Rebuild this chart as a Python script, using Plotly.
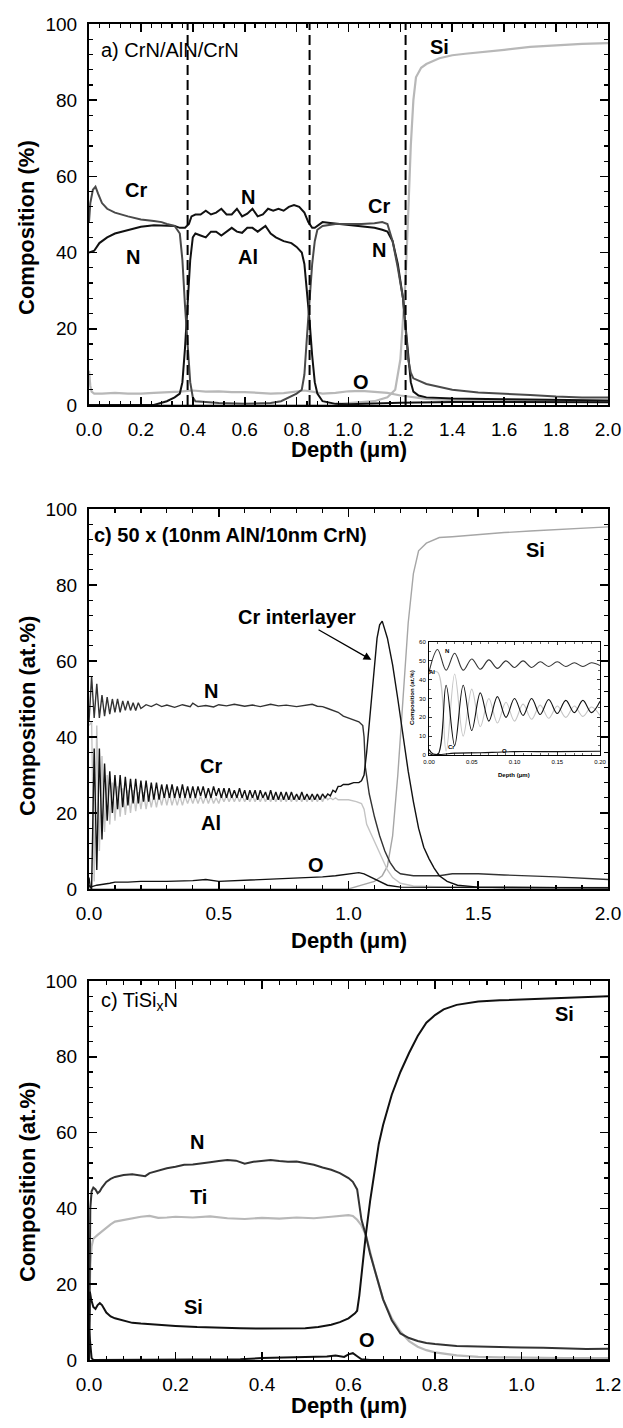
import plotly.graph_objects as go

# ================= DATA =================
# ---- Panel a) CrN/AlN/CrN ----
a_cr_depth = [0.0, 0.005, 0.015, 0.025, 0.035, 0.05, 0.07, 0.10, 0.15, 0.20, 0.25, 0.28, 0.30, 0.33, 0.35, 0.36, 0.37, 0.38,
              0.39, 0.40, 0.41, 0.45, 0.50, 0.60, 0.70, 0.74, 0.77, 0.80, 0.82, 0.83, 0.84, 0.85, 0.86, 0.87, 0.88, 0.90,
              0.95, 1.00, 1.05, 1.10, 1.13, 1.15, 1.17, 1.19, 1.21, 1.22, 1.23, 1.24, 1.25, 1.30, 1.40, 1.50, 1.60,
              1.70, 1.80, 1.90, 2.00]
a_cr = [48, 53, 56.5, 57.3, 55.5, 53, 51.5, 50.5, 49.5, 48.7, 48.3, 48, 47.5, 47, 45, 38, 26, 15,
        6, 2, 1, 0.8, 0.5, 0.3, 0.5, 1, 2, 3, 4, 8, 18, 28, 37, 43, 46, 47,
        47.5, 47.5, 47.5, 47.7, 48, 47.5, 43, 36, 28, 20, 12, 8.5, 7, 5.5, 4, 3.3, 3,
        2.6, 2.2, 2, 2]
a_n_depth = [0.0, 0.02, 0.04, 0.07, 0.10, 0.15, 0.20, 0.25, 0.30, 0.33, 0.35, 0.37, 0.385, 0.395, 0.41, 0.43, 0.45, 0.47,
             0.49, 0.51, 0.53, 0.55, 0.57, 0.59, 0.61, 0.63, 0.65, 0.67, 0.69, 0.71, 0.73, 0.75, 0.77, 0.79, 0.81,
             0.83, 0.845, 0.86, 0.87, 0.89, 0.90, 0.93, 1.00, 1.05, 1.10, 1.13, 1.15, 1.17, 1.19, 1.21, 1.22, 1.23,
             1.24, 1.25, 1.27, 1.30, 1.40, 1.60, 1.80, 2.00]
a_n = [40, 40.5, 42.5, 44, 45, 46, 46.8, 47.2, 47, 47, 46.5, 46.5, 47.5, 49.5, 50, 50, 51, 50,
       50.5, 51.5, 50, 50, 51.5, 49.5, 50.2, 51.5, 49.5, 50, 51.5, 51, 51.5, 51, 52, 52.5, 52,
       50.5, 48, 46.5, 46.5, 47.5, 48, 47.8, 47.3, 47, 46.5, 46, 45.5, 43, 37, 28, 20, 12,
       6, 3.5, 2.5, 2, 1.7, 1.5, 1.3, 1.2]
a_al_depth = [0.0, 0.25, 0.30, 0.33, 0.35, 0.36, 0.37, 0.38, 0.39, 0.40, 0.41, 0.43, 0.45, 0.47, 0.49, 0.51, 0.53, 0.55,
              0.57, 0.59, 0.61, 0.63, 0.65, 0.67, 0.68, 0.70, 0.72, 0.75, 0.78, 0.80, 0.82, 0.83, 0.84, 0.85, 0.86,
              0.87, 0.88, 0.90, 0.95, 1.00, 1.20, 1.40, 2.00]
a_al = [0, 0, 1, 2, 3, 6, 15, 28, 38, 44, 45, 44.5, 44, 45.5, 45.5, 44.5, 45.5, 46.5,
        45.5, 45.2, 46.5, 46.5, 45.5, 46.5, 47, 45, 44, 43, 42.5, 41.5, 40, 37, 30, 22, 13,
        6, 3, 1, 0.3, 0.2, 0.6, 0.8, 0.7]
a_si_depth = [0.0, 0.90, 1.00, 1.10, 1.15, 1.18, 1.20, 1.21, 1.22, 1.23, 1.24, 1.25, 1.26, 1.28, 1.30, 1.35, 1.40, 1.45,
              1.50, 1.60, 1.70, 1.80, 1.90, 2.00]
a_si = [0, 0, 0.5, 1, 2, 4, 12, 22, 33, 50, 68, 80, 86, 88.5, 89.5, 91, 91.8, 92.2,
        92.5, 93.2, 94, 94.4, 94.8, 95]
a_o_depth = [0.0, 0.005, 0.01, 0.02, 0.05, 0.10, 0.15, 0.20, 0.25, 0.30, 0.35, 0.40, 0.45, 0.50, 0.55, 0.60, 0.65,
             0.70, 0.75, 0.80, 0.83, 0.86, 0.90, 0.95, 1.00, 1.05, 1.10, 1.15, 1.20, 1.25, 1.30, 1.40, 1.60, 1.80, 2.00]
a_o = [9, 5, 3.5, 3, 3, 3.2, 3, 3, 3.2, 3.3, 3.5, 3.8, 3.5, 3.6, 3.4, 3.4, 3.2,
       3, 3.1, 3.6, 3.8, 3.5, 3, 3.2, 3.6, 3.7, 3.5, 3.2, 2.5, 2, 1.6, 1.3, 1.1, 1, 0.9]
a_interfaces = [0.38, 0.85, 1.22]

# ---- Panel b) 50 x (10nm AlN/10nm CrN) ----
b_osc_depth = [0.00, 0.01, 0.02, 0.03, 0.04, 0.05, 0.06, 0.07, 0.08, 0.09,
               0.10, 0.11, 0.12, 0.13, 0.14, 0.15, 0.16, 0.17, 0.18, 0.19,
               0.20, 0.21, 0.22, 0.23, 0.24, 0.25, 0.26, 0.27, 0.28, 0.29,
               0.30, 0.31, 0.32, 0.33, 0.34, 0.35, 0.36, 0.37, 0.38, 0.39,
               0.40, 0.41, 0.42, 0.43, 0.44, 0.45, 0.46, 0.47, 0.48, 0.49,
               0.50, 0.51, 0.52, 0.53, 0.54, 0.55, 0.56, 0.57, 0.58, 0.59,
               0.60, 0.61, 0.62, 0.63, 0.64, 0.65, 0.66, 0.67, 0.68, 0.69,
               0.70, 0.71, 0.72, 0.73, 0.74, 0.75, 0.76, 0.77, 0.78, 0.79,
               0.80, 0.81, 0.82, 0.83, 0.84, 0.85, 0.86, 0.87, 0.88, 0.89,
               0.90, 0.91, 0.92, 0.93, 0.94, 0.95, 0.96, 0.97, 0.98, 0.99,
               1.00]
b_cr_osc = [1, 0, 37, 5, 37, 13, 33, 18, 31, 20,
            30, 21, 30, 21.5, 29.5, 22, 29, 22.5, 29, 22.5,
            28.5, 23, 28.5, 23, 28, 23.5, 28, 23.5, 27.5, 24,
            27.5, 24, 27.5, 24, 27, 24, 27.5, 24, 27, 24,
            27, 24, 27, 24.5, 27, 24, 26.5, 24, 27, 24.5,
            26.5, 24, 26.5, 24, 26.5, 24, 26, 24, 26.5, 24,
            26, 23.5, 26, 24, 26, 23.5, 26, 24, 25.5, 23.5,
            26, 23.5, 25.5, 23.5, 25.5, 23.5, 25.5, 23.5, 25.5, 23.5,
            25, 23.5, 25.5, 23.5, 25, 23.5, 25, 23.5, 25, 23.5,
            25, 24, 25, 24.5, 26, 25.5, 27, 27, 27.5, 27.5,
            27.5]
b_cr_tail_depth = [1.02, 1.04, 1.05, 1.06, 1.07, 1.08, 1.09, 1.10, 1.11, 1.12, 1.13, 1.15, 1.17, 1.19, 1.21, 1.23,
                   1.25, 1.27, 1.29, 1.31, 1.33, 1.35, 1.38, 1.42, 1.50, 1.60, 2.00]
b_cr_tail = [28, 28, 28.5, 30, 36, 44, 52, 60, 66, 69.5, 70.5, 66, 59, 50, 40, 31,
             23, 16, 11, 8, 5.5, 3.5, 2, 1, 0.5, 0.4, 0.3]
b_al_osc = [43, 44, 2, 43, 10, 35, 15, 30, 17, 28,
            18, 27, 19, 26.5, 19.5, 26, 20, 26, 20.5, 25.5,
            21, 25.5, 21, 25, 21.5, 25, 21.5, 25, 22, 25,
            22, 25, 22, 24.5, 22, 24.5, 22, 24.5, 22.5, 24.5,
            22.5, 24.5, 22.5, 24.5, 22.5, 24.5, 22.5, 24.5, 22.5, 24,
            22.5, 24.5, 23, 24.5, 23, 24.5, 23, 24.5, 23, 24.5,
            23, 24.5, 23, 24.5, 23, 24.5, 23, 24.5, 23, 24.5,
            23, 24.5, 23, 24.5, 23, 24.5, 23, 24.5, 23, 24.5,
            23, 24.5, 23, 24.5, 23, 24.5, 23, 24.5, 23, 24.5,
            23, 24.5, 23.5, 24, 23.5, 24, 23.5, 23.5, 23.5, 23.5,
            23.5]
b_al_tail_depth = [1.03, 1.05, 1.06, 1.07, 1.09, 1.11, 1.13, 1.15, 1.17, 1.20, 1.25, 1.40, 2.00]
b_al_tail = [23, 22.5, 21, 17, 14, 11, 8, 5, 3, 1.5, 0.8, 0.5, 0.4]
b_n_depth = [0.00, 0.01, 0.02, 0.03, 0.04, 0.05, 0.06, 0.07, 0.08, 0.09, 0.10, 0.11, 0.12, 0.13, 0.14, 0.15, 0.16,
             0.17, 0.18, 0.19, 0.20, 0.22, 0.24, 0.26, 0.28, 0.30, 0.33, 0.36, 0.39, 0.40, 0.42, 0.45, 0.48, 0.50,
             0.53, 0.56, 0.60, 0.63, 0.66, 0.70, 0.73, 0.76, 0.80, 0.83, 0.86, 0.88, 0.90, 0.92, 0.94, 0.96, 0.98,
             1.00, 1.02, 1.04, 1.055, 1.06, 1.065, 1.08, 1.10, 1.12, 1.14, 1.16, 1.18, 1.20, 1.25, 1.35, 1.40, 1.50,
             1.60, 1.80, 2.00]
b_n = [44, 56, 45, 54, 45, 51, 45.5, 50.5, 46, 50, 46.5, 50, 46.5, 49.5, 47, 49.5, 47,
       49, 47, 49, 47.5, 48.5, 48, 48.7, 48, 48.4, 47.8, 48.5, 48, 48.9, 48, 48.3, 47.9, 48.5,
       48.2, 48.6, 48.1, 48.4, 48, 48.6, 48.2, 48.4, 48, 48.3, 48.6, 48.1, 48, 47.5, 47, 46.5, 45.5,
       45, 44.5, 44, 43, 40, 32, 25, 19, 14, 10, 7, 5, 4, 3.5, 3.5, 4, 4,
       3.7, 3.2, 2.5]
b_si_depth = [0.0, 0.95, 1.00, 1.05, 1.10, 1.13, 1.15, 1.17, 1.19, 1.21, 1.23, 1.25, 1.27, 1.30, 1.35, 1.40, 1.50,
              1.60, 1.70, 1.80, 1.90, 2.00]
b_si = [0, 0, 0, 1, 2, 3.5, 6, 14, 30, 50, 70, 83, 89, 91, 92.5, 92.7, 93.3,
        93.8, 94.2, 94.6, 95, 95.3]
b_o_depth = [0.0, 0.005, 0.03, 0.06, 0.08, 0.10, 0.15, 0.20, 0.30, 0.40, 0.45, 0.50, 0.60, 0.70, 0.80, 0.85, 0.90,
             0.95, 1.00, 1.04, 1.06, 1.09, 1.12, 1.15, 1.20, 1.50, 2.00]
b_o = [3, 0.5, 1, 1.2, 1.5, 1.8, 1.8, 2, 2, 2.2, 2.5, 2, 2.3, 2.5, 2.8, 3, 3.2,
       3.5, 4, 4.3, 4, 3, 1.8, 1, 0.5, 0.4, 0.3]

# ---- Panel c) TiSixN ----
c_n_depth = [0.0, 0.003, 0.006, 0.01, 0.015, 0.02, 0.025, 0.03, 0.04, 0.05, 0.06, 0.08, 0.10, 0.12, 0.13, 0.14,
             0.16, 0.18, 0.20, 0.22, 0.24, 0.26, 0.28, 0.30, 0.32, 0.34, 0.36, 0.38, 0.40, 0.42, 0.44, 0.46,
             0.48, 0.50, 0.52, 0.54, 0.56, 0.58, 0.60, 0.61, 0.62, 0.625, 0.63, 0.64, 0.65, 0.66, 0.68, 0.70,
             0.72, 0.74, 0.76, 0.78, 0.80, 0.85, 0.90, 0.95, 1.00, 1.05, 1.10, 1.15, 1.20]
c_n = [0, 40, 44.5, 45.5, 45, 44, 44.5, 45.5, 47, 47.8, 48.3, 48.8, 49, 48.8, 48.5, 49.3,
       50, 50.6, 51, 51.5, 51.6, 52, 52.2, 52.5, 52.8, 52.6, 51.8, 52.3, 52.6, 52.8, 52.5, 52.3,
       52.4, 52, 51.5, 50.8, 50.2, 49.3, 48, 47, 45, 41, 37, 33, 28, 24, 16, 10.5,
       7, 5.8, 5, 4.5, 4.2, 3.7, 3.5, 3.4, 3.3, 3.2, 3, 2.9, 3.0]
c_ti_depth = [0.0, 0.003, 0.006, 0.01, 0.02, 0.03, 0.04, 0.05, 0.06, 0.08, 0.10, 0.12, 0.14, 0.16, 0.18, 0.20,
              0.24, 0.28, 0.32, 0.36, 0.40, 0.44, 0.48, 0.52, 0.56, 0.60, 0.61, 0.62, 0.63, 0.64, 0.66, 0.68,
              0.70, 0.72, 0.74, 0.76, 0.78, 0.80, 0.85, 0.90, 0.95, 1.00, 1.10, 1.20]
c_ti = [10, 25, 30, 32, 33, 34, 35, 35.8, 36.5, 37, 37.3, 37.8, 38, 37.5, 37.6, 37.8,
        37.6, 37.9, 37.4, 37.2, 37.5, 37.3, 37.6, 37.4, 37.8, 38.2, 38, 37, 35.5, 33, 24, 16,
        11, 7.5, 5, 3.5, 2.6, 2, 1.2, 0.8, 0.7, 0.6, 0.5, 0.5]
c_si_depth = [0.0, 0.002, 0.005, 0.01, 0.015, 0.02, 0.025, 0.03, 0.04, 0.05, 0.06, 0.08, 0.10, 0.12, 0.15, 0.20,
              0.25, 0.30, 0.35, 0.40, 0.45, 0.50, 0.53, 0.56, 0.58, 0.60, 0.615, 0.62, 0.625, 0.63, 0.635, 0.64,
              0.65, 0.66, 0.67, 0.68, 0.70, 0.72, 0.74, 0.76, 0.78, 0.80, 0.82, 0.85, 0.88, 0.90, 0.95, 1.00,
              1.05, 1.10, 1.15, 1.20]
c_si = [0, 18, 16, 14, 13.5, 14.5, 15, 14.5, 12.5, 11.5, 11, 10.3, 9.8, 9.6, 9.3, 9,
        8.7, 8.5, 8.4, 8.3, 8.3, 8.4, 8.7, 9.3, 10, 11, 12.3, 13, 17, 23, 28, 33,
        42, 50, 57, 62, 70, 76, 81, 85.5, 89, 91, 92.5, 93.7, 94.3, 94.6, 94.9, 95.1,
        95.4, 95.7, 95.9, 96]
c_o_depth = [0.0, 0.003, 0.006, 0.01, 0.10, 0.20, 0.30, 0.35, 0.40, 0.45, 0.50, 0.55, 0.57, 0.59, 0.60, 0.61, 0.62,
             0.63, 0.65, 1.20]
c_o = [8, 4, 0.5, 0, 0.1, 0.2, 0.3, 0.2, 0.5, 0.6, 0.7, 0.9, 1.2, 0.8, 1.5, 1.8, 1.0,
       0.2, 0, 0]

# ================= FIGURE =================
FONT = "Liberation Sans, Arial, sans-serif"
W, H = 623, 1428
BLACK = "#111111"
DARK = "#4a4a4a"
LIGHT = "#b8b8b8"


def dom_x(left, right):
    return [left / W, right / W]


def dom_y(top, bottom):
    return [1 - bottom / H, 1 - top / H]


def axis(rng, dtick, minor_dtick, fmt, domain, anchor, size=19, tl=8, ml=4, lw=2, standoff=6):
    return dict(range=rng, dtick=dtick, tick0=0, tickformat=fmt, domain=domain, anchor=anchor,
                automargin=False,
                ticks="inside", ticklen=tl, tickwidth=lw * 0.8, tickcolor="black",
                showline=True, linecolor="black", linewidth=lw, mirror="ticks",
                showgrid=False, zeroline=False,
                tickfont=dict(family=FONT, size=size, color="black"),
                ticklabelstandoff=standoff,
                minor=dict(dtick=minor_dtick, tick0=0, ticks="inside", ticklen=ml,
                           tickwidth=lw * 0.6, tickcolor="black", showgrid=False),
                fixedrange=True)


fig = go.Figure()


def line(x, y, color, width, xa, ya, shape="linear"):
    fig.add_trace(go.Scatter(x=x, y=y, mode="lines", xaxis=xa, yaxis=ya,
                             line=dict(color=color, width=width, shape=shape),
                             hoverinfo="skip", showlegend=False))


# panel a
line(a_o_depth, a_o, LIGHT, 2.2, "x", "y")
line(a_si_depth, a_si, LIGHT, 2.2, "x", "y")
line(a_al_depth, a_al, BLACK, 2, "x", "y")
line(a_n_depth, a_n, BLACK, 2, "x", "y")
line(a_cr_depth, a_cr, DARK, 2, "x", "y")

# panel b
b_cr_depth = b_osc_depth + b_cr_tail_depth
b_cr = b_cr_osc + b_cr_tail
b_al_depth = b_osc_depth + b_al_tail_depth
b_al = b_al_osc + b_al_tail
line(b_si_depth, b_si, "#a6a6a6", 1.4, "x2", "y2")
line(b_al_depth, b_al, "#c4c4c4", 1.4, "x2", "y2")
line(b_o_depth, b_o, BLACK, 1.4, "x2", "y2")
line(b_n_depth, b_n, "#333333", 1.4, "x2", "y2")
line(b_cr_depth, b_cr, BLACK, 1.4, "x2", "y2")


# inset (first 0.2 um of the same profiles)
def clip(xs, ys, lim=0.2):
    pairs = [(a, b) for a, b in zip(xs, ys) if a <= lim + 1e-9]
    return [p[0] for p in pairs], [p[1] for p in pairs]


for (xs, ys, col) in [(b_o_depth, b_o, BLACK), (b_al_depth, b_al, "#c4c4c4"),
                      (b_n_depth, b_n, "#333333"), (b_cr_depth, b_cr, BLACK)]:
    cx, cy = clip(xs, ys)
    line(cx, cy, col, 1.1, "x4", "y4", shape="spline")

# panel c
line(c_ti_depth, c_ti, LIGHT, 2.2, "x3", "y3")
line(c_o_depth, c_o, BLACK, 2, "x3", "y3")
line(c_n_depth, c_n, "#333333", 2, "x3", "y3")
line(c_si_depth, c_si, BLACK, 2, "x3", "y3")

XL, XR = 89, 608
layout = dict(
    width=W, height=H, margin=dict(l=0, r=0, t=0, b=0, autoexpand=False),
    paper_bgcolor="white", plot_bgcolor="white", showlegend=False,
    font=dict(family=FONT, color="black"),
    xaxis=axis([0, 2], 0.2, 0.04, ".1f", dom_x(XL, XR), "y"),
    yaxis=axis([0, 100], 20, 4, "d", dom_y(24, 405), "x"),
    xaxis2=axis([0, 2], 0.5, 0.1, ".1f", dom_x(XL, XR), "y2"),
    yaxis2=axis([0, 100], 20, 4, "d", dom_y(509, 889), "x2"),
    xaxis3=axis([0, 1.2], 0.2, 0.04, ".1f", dom_x(XL, XR), "y3"),
    yaxis3=axis([0, 100], 20, 4, "d", dom_y(981, 1360), "x3"),
    xaxis4=axis([0, 0.2], 0.05, 0.01, ".2f", dom_x(429, 600), "y4", size=6, tl=3, ml=2, lw=1, standoff=1),
    yaxis4=axis([0, 60], 10, 5, "d", dom_y(642, 755), "x4", size=6, tl=3, ml=2, lw=1, standoff=1),
)
fig.update_layout(**layout)

shapes = []
for xv in a_interfaces:
    shapes.append(dict(type="line", xref="x", yref="y", x0=xv, x1=xv, y0=0, y1=100,
                       line=dict(color="black", width=2, dash="10px,5px")))
fig.update_layout(shapes=shapes)

ann = []


def lab(text, x, y, xr, yr, size=20, bold=True, xanchor="center"):
    t = f"<b>{text}</b>" if bold else text
    ann.append(dict(text=t, x=x, y=y, xref=xr, yref=yr, showarrow=False, xanchor=xanchor, yanchor="middle",
                    font=dict(family=FONT, size=size, color="black")))


# panel a labels
lab("a) CrN/AlN/CrN", 0.039, 93.2, "x", "y", bold=False, xanchor="left")
lab("Cr", 0.18, 56.4, "x", "y")
lab("N", 0.17, 38.9, "x", "y")
lab("N", 0.611, 54.7, "x", "y")
lab("Al", 0.611, 38.9, "x", "y")
lab("Cr", 1.119, 52.2, "x", "y")
lab("N", 1.119, 40.7, "x", "y")
lab("Si", 1.35, 94, "x", "y")
lab("O", 1.05, 6.1, "x", "y")

# panel b labels
lab("c) 50 x (10nm AlN/10nm CrN)", 0.011, 93.2, "x2", "y2", xanchor="left")
lab("N", 0.47, 52.2, "x2", "y2")
lab("Cr", 0.47, 32.4, "x2", "y2")
lab("Al", 0.47, 17.5, "x2", "y2")
lab("O", 0.876, 6.3, "x2", "y2")
lab("Si", 1.72, 89.2, "x2", "y2")
# "Cr interlayer" label with its arrow (arrow head on the Cr peak flank)
ann.append(dict(text="<b>Cr interlayer</b>", x=1.088, y=60.3, ax=0.80, ay=71.5,
                xref="x2", yref="y2", axref="x2", ayref="y2",
                showarrow=True, arrowhead=2, arrowsize=1.2, arrowwidth=1.3, arrowcolor="black",
                font=dict(family=FONT, size=20, color="black")))

# inset labels
lab("N", 0.0205, 55.2, "x4", "y4", size=6)
lab("Al", 0.003, 44.2, "x4", "y4", size=6)
lab("Cr", 0.026, 4.4, "x4", "y4", size=6)
lab("O", 0.088, 2.3, "x4", "y4", size=6)

# panel c labels
lab("c) TiSi<sub>x</sub>N", 0.023, 94.7, "x3", "y3", bold=False, xanchor="left")
lab("N", 0.25, 57.6, "x3", "y3")
lab("Ti", 0.253, 43.1, "x3", "y3")
lab("Si", 0.242, 14.1, "x3", "y3")
lab("O", 0.642, 5.3, "x3", "y3")
lab("Si", 1.10, 91.3, "x3", "y3")


def paper_text(text, xp, yp, size=22, angle=0):
    ann.append(dict(text=f"<b>{text}</b>", x=xp / W, y=1 - yp / H, xref="paper", yref="paper",
                    showarrow=False, textangle=angle, xanchor="center", yanchor="middle",
                    font=dict(family=FONT, size=size, color="black")))


# axis titles
paper_text("Composition (%)", 27, 228, angle=-90)
paper_text("Depth (μm)", 349, 449)
paper_text("Composition (at.%)", 27, 716, angle=-90)
paper_text("Depth (μm)", 349, 940)
paper_text("Composition (at.%)", 27, 1182, angle=-90)
paper_text("Depth (μm)", 349, 1405)
paper_text("Composition (at.%)", 412, 698, size=6, angle=-90)
paper_text("Depth (μm)", 514, 775, size=6)

fig.update_layout(annotations=ann)
fig.write_html("out.html", config={"displayModeBar": False, "staticPlot": True},
               post_script="document.body.style.margin='0';document.body.style.overflow='hidden';")
